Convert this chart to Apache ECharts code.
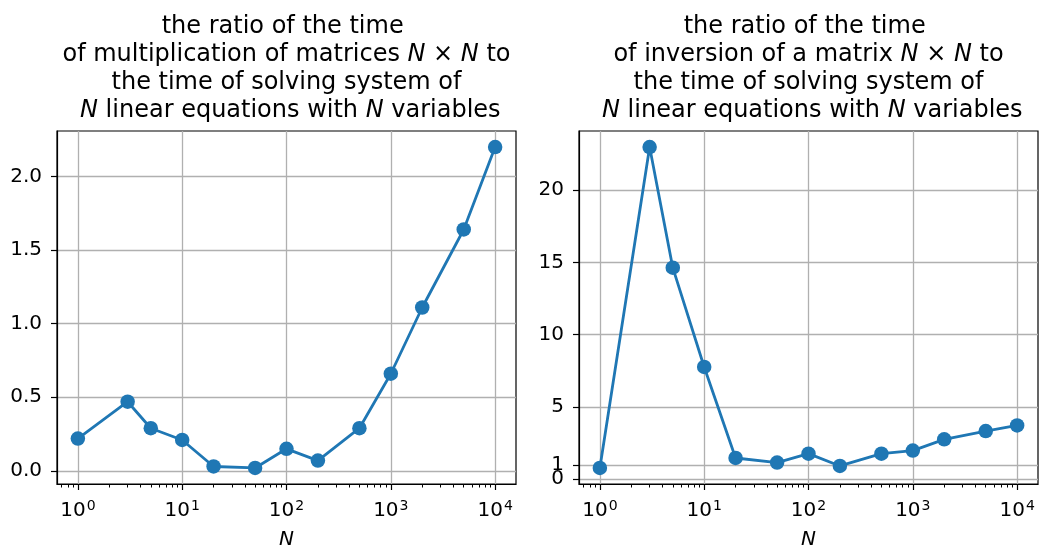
<!DOCTYPE html>
<html>
<head>
<meta charset="utf-8">
<script src="https://cdn.jsdelivr.net/npm/echarts@6/dist/echarts.min.js"></script>
<style>html,body{margin:0;padding:0;background:#fff}#c{width:1039px;height:548px}</style>
</head>
<body>
<div id="c"></div>
<script>
// ---- data ----
const N = [1, 3, 5, 10, 20, 50, 100, 200, 500, 1000, 2000, 5000, 10000];
const multRatio = [0.22, 0.47, 0.29, 0.21, 0.03, 0.02, 0.15, 0.07, 0.29, 0.66, 1.11, 1.64, 2.20];
const invRatio = [0.78, 22.99, 14.64, 7.77, 1.47, 1.15, 1.77, 0.92, 1.77, 1.98, 2.76, 3.33, 3.72];
const xMajorTicks = [1, 10, 100, 1000, 10000];
const xMinorTicks = [0.7, 0.8, 0.9, 2, 3, 4, 5, 6, 7, 8, 9, 20, 30, 40, 50, 60, 70, 80, 90,
  200, 300, 400, 500, 600, 700, 800, 900, 2000, 3000, 4000, 5000, 6000, 7000, 8000, 9000];
const yTicksLeft = [0, 0.5, 1.0, 1.5, 2.0];
const yTicksRight = [1, 5, 10, 15, 20];
const yTicksRightZero = [0];
const titleLeft = 'the ratio of the time \nof multiplication of matrices {i|N} \u00d7 {i|N} to\nthe time of solving system of\n {i|N} linear equations with {i|N} variables';
const titleRight = 'the ratio of the time \nof inversion of a matrix {i|N} \u00d7 {i|N} to\nthe time of solving system of\n {i|N} linear equations with {i|N} variables';

const FONT = 'DejaVu Sans';
const BLUE = '#1f77b4';

function pad(arr) {
  const mn = Math.min(...arr), mx = Math.max(...arr), r = mx - mn;
  return [mn - 0.05 * r, mx + 0.05 * r];
}
const lg0 = Math.log10(N[0]), lg1 = Math.log10(N[N.length - 1]);
const xLogMin = Math.pow(10, lg0 - 0.05 * (lg1 - lg0));
const xLogMax = Math.pow(10, lg1 + 0.05 * (lg1 - lg0));
const yL = pad(multRatio), yR = pad(invRatio);

const rects = [
  {left: 57, top: 131, width: 459, height: 353},
  {left: 579, top: 131, width: 459, height: 353}
];

function xMain(gi) {
  return {
    type: 'log', gridIndex: gi, logBase: 10, min: xLogMin, max: xLogMax, position: 'bottom',
    name: 'N', nameLocation: 'middle', nameGap: 46,
    nameTextStyle: {fontFamily: FONT, fontSize: 20, fontStyle: 'italic', color: '#000'},
    axisLine: {show: true, onZero: false, lineStyle: {color: '#000', width: 1.2}},
    axisTick: {show: true, length: 6, lineStyle: {color: '#000', width: 1.2}, customValues: xMajorTicks},
    axisLabel: {
      customValues: xMajorTicks, margin: 15, color: '#000', fontFamily: FONT, fontSize: 20, hideOverlap: false,
      formatter: v => '10{s|' + Math.round(Math.log10(v)) + '}',
      rich: {s: {fontFamily: FONT, fontSize: 14, verticalAlign: 'top', padding: [0, 0, 9, 1]}}
    },
    splitLine: {show: true, lineStyle: {color: '#b0b0b0', width: 1.3}}
  };
}
function xMinor(gi) {
  return {
    type: 'log', gridIndex: gi, logBase: 10, min: xLogMin, max: xLogMax, position: 'bottom',
    axisLine: {show: false, onZero: false},
    axisTick: {show: true, length: 3.5, lineStyle: {color: '#000', width: 1}, customValues: xMinorTicks},
    axisLabel: {show: false},
    splitLine: {show: false}
  };
}
function yAxis(gi, ext, ticks, fmt, showLine) {
  return {
    type: 'value', gridIndex: gi, min: ext[0], max: ext[1],
    axisLine: {show: showLine, onZero: false, lineStyle: {color: '#000', width: 1.2}},
    axisTick: {show: true, length: 6, lineStyle: {color: '#000', width: 1.2}, customValues: ticks},
    axisLabel: {customValues: ticks, margin: 15, color: '#000', fontFamily: FONT, fontSize: 20,
      hideOverlap: false, formatter: fmt},
    splitLine: {show: true, lineStyle: {color: '#b0b0b0', width: 1.3}}
  };
}

const chart = echarts.init(document.getElementById('c'), null, {renderer: 'canvas'});
const titleStyle = (txt, cx) => ({
  type: 'text', x: cx, y: 13, silent: true,
  style: {
    text: txt, fill: '#000', fontFamily: FONT, fontSize: 24, lineHeight: 27.8,
    align: 'center', verticalAlign: 'top',
    rich: {i: {fontFamily: FONT, fontSize: 24, fontStyle: 'italic', lineHeight: 27.8}}
  }
});
const gridBase = {outerBoundsMode: 'none', containLabel: false};
chart.setOption({
  animation: false,
  backgroundColor: '#fff',
  textStyle: {fontFamily: FONT},
  graphic: [titleStyle(titleLeft, 286.5), titleStyle(titleRight, 808.5)],
  grid: [
    Object.assign({show: true, borderColor: '#000', borderWidth: 1.2}, gridBase, rects[0]),
    Object.assign({show: true, borderColor: '#000', borderWidth: 1.2}, gridBase, rects[1]),
    Object.assign({show: false}, gridBase, rects[0]),
    Object.assign({show: false}, gridBase, rects[1])
  ],
  xAxis: [xMain(0), xMain(1), xMinor(2), xMinor(3)],
  yAxis: [
    yAxis(0, yL, yTicksLeft, v => v.toFixed(1), true),
    yAxis(1, yR, yTicksRight, v => String(v), true),
    {type: 'value', gridIndex: 2, min: yL[0], max: yL[1], show: false},
    yAxis(3, yR, yTicksRightZero, v => String(v), false)
  ],
  series: [
    {type: 'line', xAxisIndex: 0, yAxisIndex: 0, data: N.map((n, i) => [n, multRatio[i]]),
     symbol: 'circle', symbolSize: 14.5, itemStyle: {color: BLUE}, lineStyle: {color: BLUE, width: 2.8}},
    {type: 'line', xAxisIndex: 1, yAxisIndex: 1, data: N.map((n, i) => [n, invRatio[i]]),
     symbol: 'circle', symbolSize: 14.5, itemStyle: {color: BLUE}, lineStyle: {color: BLUE, width: 2.8}}
  ]
});
</script>
</body>
</html>
